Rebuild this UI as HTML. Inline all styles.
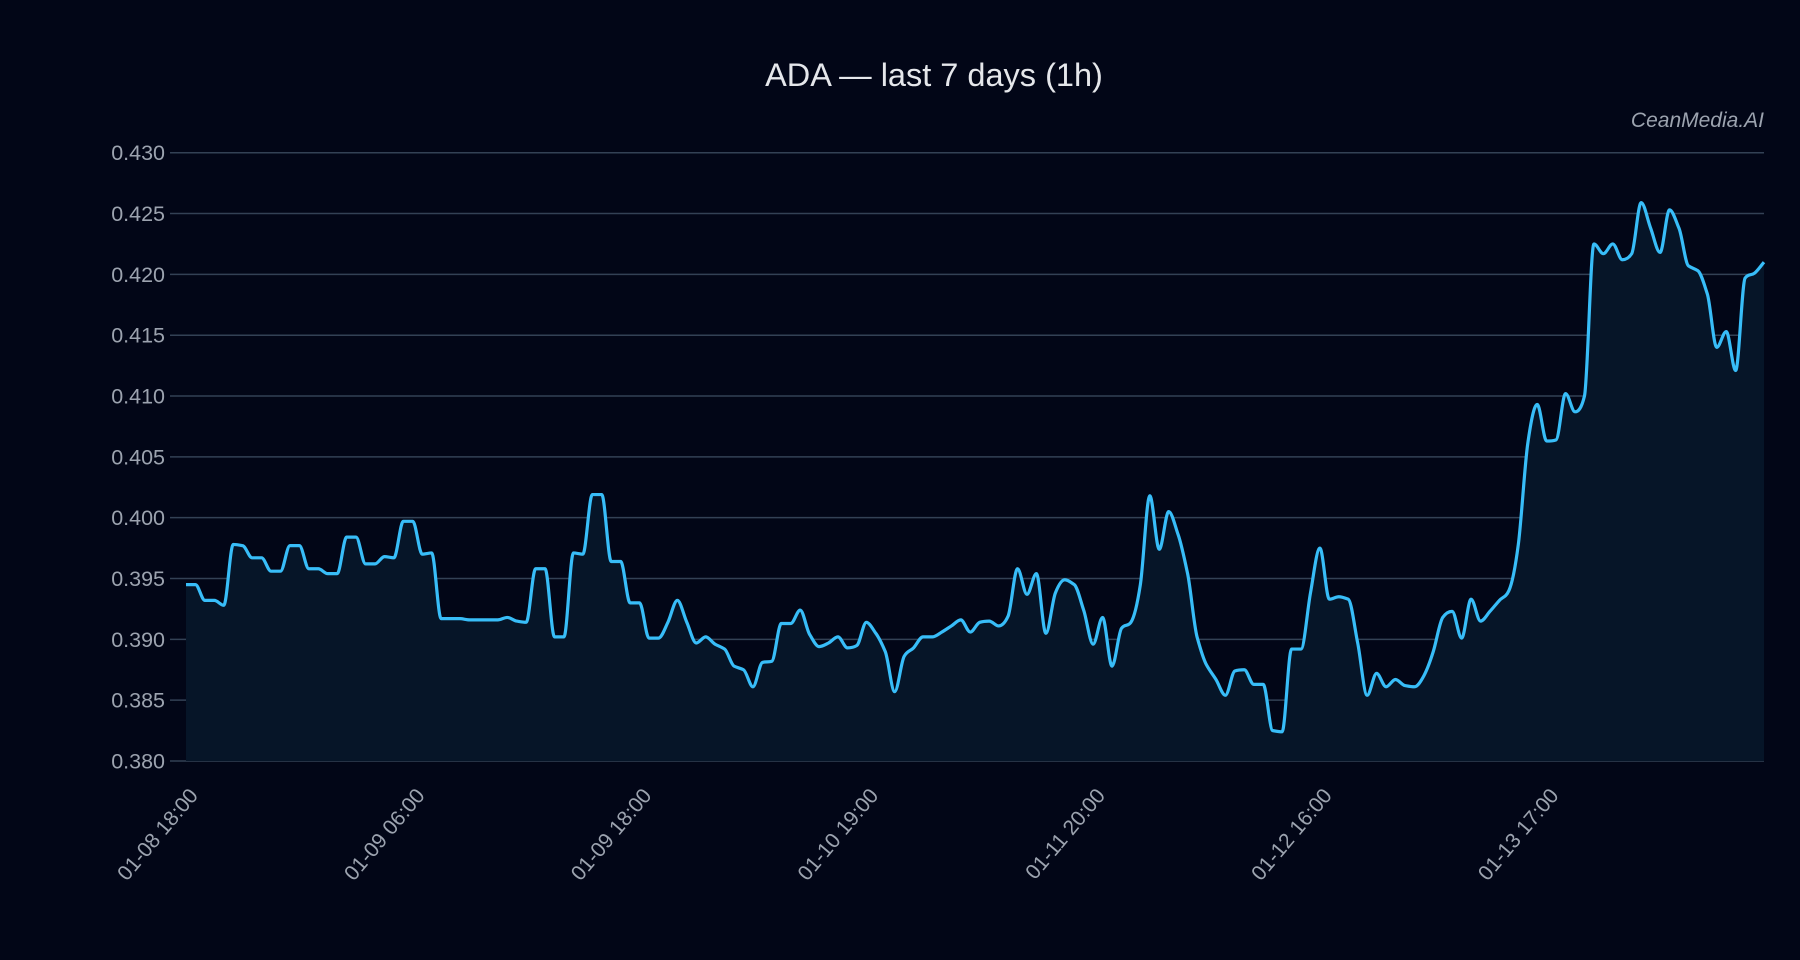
<!DOCTYPE html>
<html><head><meta charset="utf-8">
<style>
html,body{margin:0;padding:0;background:#020617;}
svg{display:block;font-family:"Liberation Sans",sans-serif;}
</style></head>
<body>
<svg id="chart" width="1800" height="960" viewBox="0 0 1800 960" xmlns="http://www.w3.org/2000/svg">
<rect width="1800" height="960" fill="#020617"/>
<text x="934" y="86" text-anchor="middle" fill="#e5e7eb" font-size="32.5">ADA — last 7 days (1h)</text>
<text x="1764" y="127" text-anchor="end" fill="#9ca3af" font-size="21" font-style="italic">CeanMedia.AI</text>
<g id="grid"></g>
<g id="yticks"></g>
<path id="area" fill="#061528"/>
<path id="line" fill="none" stroke="#38bdf8" stroke-width="3.2" stroke-linejoin="round"/>
<g id="xticks"></g>
</svg>
<script>
const prices = [0.3945,0.3945,0.3932,0.3932,0.3928,0.3978,0.3977,0.3967,0.3967,0.3956,0.3956,0.3977,0.3977,0.3958,0.3958,0.3954,0.3954,0.3984,0.3984,0.3962,0.3962,0.3968,0.3967,0.3997,0.3997,0.3970,0.3971,0.3917,0.3917,0.3917,0.3916,0.3916,0.3916,0.3916,0.3918,0.3915,0.3914,0.3958,0.3958,0.3902,0.3902,0.3971,0.3970,0.4019,
0.4019,0.3964,0.3964,0.3930,0.3930,0.3901,0.3901,0.3914,0.3932,0.3914,0.3897,0.3902,0.3896,0.3892,0.3878,0.3875,0.3861,0.3881,0.3882,0.3913,0.3913,0.3924,0.3904,0.3894,0.3897,0.3902,0.3893,0.3895,0.3914,0.3905,0.3890,0.3857,0.3886,0.3893,0.3902,0.3902,0.3906,0.3911,0.3916,0.3906,0.3914,0.3915,0.3911,
0.3919,0.3958,0.3937,0.3954,0.3905,0.3938,0.3949,0.3945,0.3924,0.3896,0.3918,0.3878,0.3909,0.3914,0.3945,0.4018,0.3974,0.4005,0.3986,0.3954,0.3902,0.3879,0.3867,0.3854,0.3874,0.3875,0.3863,0.3863,0.3825,0.3824,0.3892,0.3892,0.3938,0.3975,0.3933,0.3935,0.3933,0.3897,0.3854,0.3872,0.3861,0.3867,0.3862,0.3861,
0.3870,0.3890,0.3918,0.3923,0.3901,0.3933,0.3915,0.3923,0.3932,0.3940,0.3978,0.4061,0.4093,0.4063,0.4064,0.4102,0.4087,0.4100,0.4225,0.4217,0.4225,0.4212,0.4217,0.4259,0.4238,0.4218,0.4253,0.4238,0.4207,0.4203,0.4184,0.4140,0.4153,0.4121,0.4197,0.4201,0.4210];
const yTicks = [0.380,0.385,0.390,0.395,0.400,0.405,0.410,0.415,0.420,0.425,0.430];
const xTickIdx = [0,24,48,72,96,120,144];
const xTickLabels = ["01-08 18:00","01-09 06:00","01-09 18:00","01-10 19:00","01-11 20:00","01-12 16:00","01-13 17:00"];

const X0=186,X1=1764,Y0=761,Y1=152.7,VMIN=0.380,VMAX=0.430;
const xs=i=>X0+(X1-X0)*i/(prices.length-1);
const ys=v=>Y0-(v-VMIN)/(VMAX-VMIN)*(Y0-Y1);
const NS="http://www.w3.org/2000/svg";
const grid=document.getElementById('grid'),yt=document.getElementById('yticks'),xt=document.getElementById('xticks');
yTicks.forEach(v=>{
  const y=ys(v);
  const l=document.createElementNS(NS,'line');
  l.setAttribute('x1',170);l.setAttribute('x2',X1);l.setAttribute('y1',y);l.setAttribute('y2',y);
  l.setAttribute('stroke','#334155');l.setAttribute('stroke-width','1.5');
  
  
  grid.appendChild(l);
  const t=document.createElementNS(NS,'text');
  t.setAttribute('x',165);t.setAttribute('y',y+7.5);t.setAttribute('text-anchor','end');
  t.setAttribute('fill','#9ca3af');t.setAttribute('font-size','21.5');
  t.textContent=v.toFixed(3);
  
  
  yt.appendChild(t);
});
xTickIdx.forEach((idx,k)=>{
  const x=xs(idx);
  const t=document.createElementNS(NS,'text');
  t.setAttribute('text-anchor','end');
  t.setAttribute('transform','translate('+(x+13)+',796) rotate(-50)');
  t.setAttribute('fill','#9ca3af');t.setAttribute('font-size','21');
  t.textContent=xTickLabels[k];
  
  
  xt.appendChild(t);
});
// monotone cubic
const n=prices.length,px=prices.map((v,i)=>xs(i)),py=prices.map(ys);
const d=[],m=[];
for(let i=0;i<n-1;i++)d.push((py[i+1]-py[i])/(px[i+1]-px[i]));
for(let i=0;i<n;i++){
  if(i===0)m.push(d[0]);else if(i===n-1)m.push(d[n-2]);
  else if(d[i-1]*d[i]<=0)m.push(0);
  else{const a=d[i-1],b=d[i];m.push(3*a*b/(Math.max(a,b)*2+Math.min(a,b)) );}
}
let p='M'+px[0]+','+py[0];
for(let i=0;i<n-1;i++){
  const h=(px[i+1]-px[i])/3;
  p+=' C'+(px[i]+h)+','+(py[i]+m[i]*h)+' '+(px[i+1]-h)+','+(py[i+1]-m[i+1]*h)+' '+px[i+1]+','+py[i+1];
}
document.getElementById('line').setAttribute('d',p);
document.getElementById('area').setAttribute('d',p+' L'+X1+','+Y0+' L'+X0+','+Y0+' Z');
</script>
</body></html>
